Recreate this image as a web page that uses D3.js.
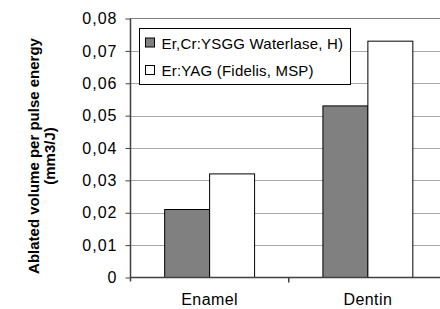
<!DOCTYPE html>
<html>
<head>
<meta charset="utf-8">
<script src="https://cdn.jsdelivr.net/npm/d3@7"></script>
<style>
    body { margin: 0; background: #fff; }
    svg { display: block; font-family: "Liberation Sans", Arial, sans-serif; }
</style>
</head>
<body>
<div id="chart"></div>
<script>
// chart values
var categories = ["Enamel", "Dentin"];
var seriesNames = ["Er,Cr:YSGG Waterlase, H)", "Er:YAG (Fidelis, MSP)"];
var seriesColors = ["#808080", "#ffffff"];
var ysggValues = [0.021, 0.053];
var yagValues = [0.032, 0.073];
var yTicks = [0, 0.01, 0.02, 0.03, 0.04, 0.05, 0.06, 0.07, 0.08];

var width = 440, height = 309;
var plot = {left: 130.5, right: 447, top: 18.5, bottom: 277.5};

var svg = d3.select("#chart").append("svg")
    .attr("width", width)
    .attr("height", height);

var yScale = d3.scaleLinear()
    .domain([0, 0.08])
    .range([plot.bottom, plot.top]);

var xScale = d3.scaleBand()
    .domain(categories)
    .range([plot.left, plot.right])
    .paddingInner(0)
    .paddingOuter(0);

// series inside each band
var inner = d3.scaleBand()
    .domain([0, 1])
    .range([0, xScale.bandwidth()])
    .paddingOuter(0.76)
    .paddingInner(0);

// gridlines
svg.append("g")
    .selectAll("line")
    .data(yTicks.filter(function(d) { return d > 0 && d < 0.08; }))
    .enter().append("line")
    .attr("x1", plot.left)
    .attr("x2", plot.right)
    .attr("y1", function(d) { return Math.round(yScale(d)) + 0.5; })
    .attr("y2", function(d) { return Math.round(yScale(d)) + 0.5; })
    .attr("stroke", "#a8a8a8")
    .attr("stroke-width", 1);

// top frame
svg.append("line")
    .attr("x1", plot.left).attr("x2", plot.right)
    .attr("y1", yScale(0.08)).attr("y2", yScale(0.08))
    .attr("stroke", "#808080")
    .attr("stroke-width", 1);

// bars
var rows = [];
categories.forEach(function(c, i) {
    rows.push({cat: c, s: 0, v: ysggValues[i]});
    rows.push({cat: c, s: 1, v: yagValues[i]});
});

svg.append("g")
    .selectAll("rect")
    .data(rows)
    .enter().append("rect")
    .attr("x", function(d) { return xScale(d.cat) + inner(d.s); })
    .attr("y", function(d) { return yScale(d.v); })
    .attr("width", inner.bandwidth())
    .attr("height", function(d) { return yScale(0) - yScale(d.v); })
    .attr("fill", function(d) { return seriesColors[d.s]; })
    .attr("stroke", "#000")
    .attr("stroke-width", 1);

// y axis
var yAxis = d3.axisLeft(yScale)
    .tickValues(yTicks)
    .tickSize(5)
    .tickPadding(8)
    .tickFormat(function(d) { return d === 0 ? "0" : d3.format(".2f")(d).replace(".", ","); });

var yg = svg.append("g")
    .attr("transform", "translate(" + plot.left + ",0)")
    .call(yAxis);
yg.select(".domain").remove();
yg.selectAll(".tick line").attr("stroke", "#404040");
yg.selectAll(".tick text")
    .attr("font-size", "16px")
    .attr("letter-spacing", "1px")
    .attr("fill", "#000")
    .attr("font-family", "Liberation Sans, Arial, sans-serif");

svg.append("line")
    .attr("x1", plot.left).attr("x2", plot.left)
    .attr("y1", plot.top).attr("y2", plot.bottom + 4)
    .attr("stroke", "#404040")
    .attr("stroke-width", 1.5);

// x axis
var xg = svg.append("g")
    .attr("transform", "translate(0," + plot.bottom + ")");
xg.append("line")
    .attr("x1", plot.left).attr("x2", plot.right)
    .attr("stroke", "#404040")
    .attr("stroke-width", 1.5);
xg.selectAll(".sep")
    .data(categories.slice(1))
    .enter().append("line")
    .attr("class", "sep")
    .attr("x1", function(d) { return xScale(d); })
    .attr("x2", function(d) { return xScale(d); })
    .attr("y1", 0).attr("y2", 5)
    .attr("stroke", "#404040")
    .attr("stroke-width", 1.5);
xg.selectAll(".lab")
    .data(categories)
    .enter().append("text")
    .attr("class", "lab")
    .attr("x", function(d) { return xScale(d) + xScale.bandwidth() / 2; })
    .attr("y", 27.5)
    .attr("text-anchor", "middle")
    .attr("font-size", "16px")
    .attr("letter-spacing", "0.4px")
    .text(function(d) { return d; });

// y axis title
var title = svg.append("text")
    .attr("transform", "translate(39,156) rotate(-90)")
    .attr("text-anchor", "middle")
    .attr("font-size", "15px")
    .attr("font-weight", "bold");
title.append("tspan").attr("x", 0).attr("y", 0).text("Ablated volume per pulse energy");
title.append("tspan").attr("x", 0).attr("y", 15.5).text("(mm3/J)");

// legend
var legend = svg.append("g").attr("transform", "translate(139.5,28.5)");
legend.append("rect")
    .attr("width", 211)
    .attr("height", 56)
    .attr("fill", "#fff")
    .attr("stroke", "#000")
    .attr("stroke-width", 1);
seriesNames.forEach(function(name, i) {
    var row = legend.append("g").attr("transform", "translate(6," + (9.5 + i * 27.5) + ")");
    row.append("rect")
        .attr("width", 9)
        .attr("height", 9)
        .attr("fill", seriesColors[i])
        .attr("stroke", "#000");
    row.append("text")
        .attr("x", 16)
        .attr("y", 10.5)
        .attr("font-size", "15px")
        .attr("letter-spacing", "0.2px")
        .text(name);
});
</script>
</body>
</html>
